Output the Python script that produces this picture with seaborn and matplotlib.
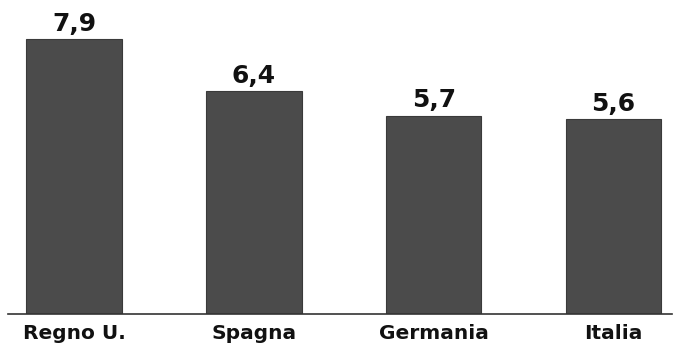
import matplotlib
matplotlib.use("Agg")
import matplotlib.pyplot as plt
import seaborn as sns
import pandas as pd

# Data
paesi = ["Regno U.", "Spagna", "Germania", "Italia"]
valori = [7.9, 6.4, 5.7, 5.6]
etichette = ["7,9", "6,4", "5,7", "5,6"]

df = pd.DataFrame({"paese": paesi, "valore": valori})

sns.set_style("white")
plt.rcParams["font.family"] = ["DejaVu Sans"]

fig = plt.figure(figsize=(6.73, 3.51), dpi=100)
ax = fig.add_axes([8 / 673, 37 / 351, 664 / 673, 314 / 351])

sns.barplot(data=df, x="paese", y="valore", color="#4b4b4b", width=0.53,
            saturation=1, edgecolor="#3a3a3a", linewidth=0.8, ax=ax)

# Value labels above bars
for i, (v, t) in enumerate(zip(valori, etichette)):
    ax.text(i, v + 0.1, t, ha="center", va="bottom", fontsize=18,
            fontweight="bold", color="#111111")

ax.set_xlim(-0.367, 3.325)
ax.set_ylim(0, 9.02)
ax.set_xlabel("")
ax.set_ylabel("")
ax.set_yticks([])
ax.tick_params(axis="x", length=0, pad=7, labelsize=14.5)
for lab in ax.get_xticklabels():
    lab.set_fontweight("bold")
    lab.set_color("#111111")

for s in ["top", "right", "left"]:
    ax.spines[s].set_visible(False)
ax.spines["bottom"].set_color("#333333")
ax.spines["bottom"].set_linewidth(1.2)

plt.savefig("out.png", dpi=100)
plt.close()
